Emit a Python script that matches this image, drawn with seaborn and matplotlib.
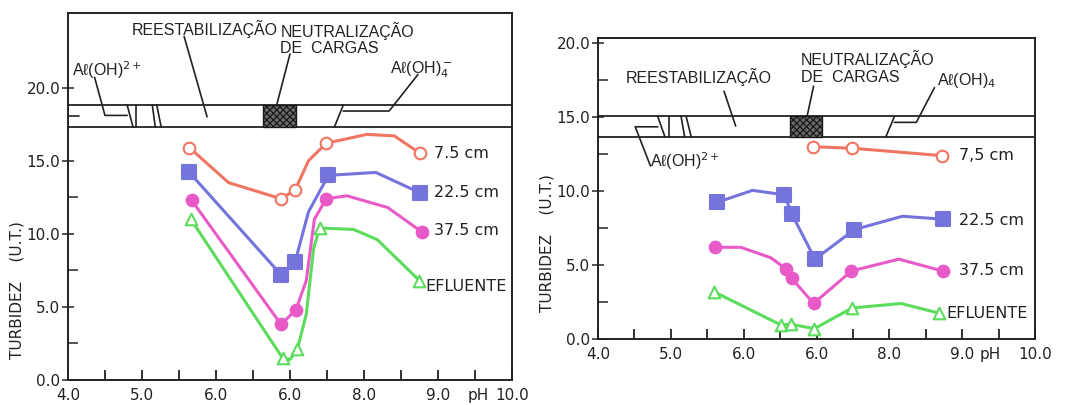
import numpy as np
import pandas as pd
import seaborn as sns
import matplotlib.pyplot as plt
from matplotlib.patches import Rectangle
from matplotlib.ticker import MultipleLocator, FixedLocator, FixedFormatter

sns.set_theme(style='white')
plt.rcParams['font.family'] = ['DejaVu Sans']
plt.rcParams['hatch.linewidth'] = 0.9

SERIES = ['7.5 cm', '22.5 cm', '37.5 cm', 'EFLUENTE']
COLORS = {'7.5 cm': '#f07563', '22.5 cm': '#7474dc', '37.5 cm': '#e85ac8', 'EFLUENTE': '#5cdc5c'}
MARKERS = {'7.5 cm': 'o', '22.5 cm': 's', '37.5 cm': 'o', 'EFLUENTE': '^'}
FILLED = {'7.5 cm': False, '22.5 cm': True, '37.5 cm': True, 'EFLUENTE': False}

XTICK_LABELS = ['4.0', '5.0', '6.0', '6.0', '8.0', '9.0', '10.0']
LABEL_FONT = ['Liberation Sans Narrow', 'Liberation Sans', 'DejaVu Sans']

# ---- left panel (vertices of each curve, mk = 1 where a marker is drawn)
L_PH_75 = [5.64, 6.17, 6.88, 7.07, 7.25, 7.49, 8.04, 8.41, 8.76]
L_TU_75 = [15.9, 13.5, 12.4, 13.0, 15.0, 16.2, 16.8, 16.7, 15.5]
L_MK_75 = [1, 0, 1, 1, 0, 1, 0, 0, 1]
L_PH_225 = [5.64, 6.88, 7.07, 7.25, 7.52, 8.16, 8.76]
L_TU_225 = [14.2, 7.2, 8.1, 11.5, 14.0, 14.2, 12.8]
L_MK_225 = [1, 1, 1, 0, 1, 0, 1]
L_PH_375 = [5.67, 6.88, 7.08, 7.22, 7.33, 7.49, 7.77, 8.32, 8.79]
L_TU_375 = [12.3, 3.8, 4.8, 6.8, 11.0, 12.4, 12.6, 11.8, 10.1]
L_MK_375 = [1, 1, 1, 0, 0, 1, 0, 0, 1]
L_PH_EF = [5.66, 6.90, 7.00, 7.10, 7.22, 7.32, 7.40, 7.86, 8.18, 8.75]
L_TU_EF = [11.0, 1.5, 1.4, 2.1, 4.5, 9.0, 10.4, 10.3, 9.6, 6.8]
L_MK_EF = [1, 1, 0, 1, 0, 0, 1, 0, 0, 1]

# ---- right panel
R_PH_75 = [6.95, 7.49, 8.72]
R_TU_75 = [13.0, 12.9, 12.4]
R_MK_75 = [1, 1, 1]
R_PH_225 = [5.64, 6.12, 6.56, 6.66, 6.98, 7.52, 8.18, 8.74]
R_TU_225 = [9.25, 10.05, 9.75, 8.45, 5.4, 7.4, 8.3, 8.1]
R_MK_225 = [1, 0, 1, 1, 1, 1, 0, 1]
R_PH_375 = [5.61, 5.96, 6.37, 6.58, 6.66, 6.96, 7.48, 8.13, 8.73]
R_TU_375 = [6.2, 6.2, 5.5, 4.75, 4.1, 2.4, 4.6, 5.4, 4.6]
R_MK_375 = [1, 0, 0, 1, 1, 1, 1, 0, 1]
R_PH_EF = [5.59, 6.51, 6.65, 6.97, 7.49, 8.16, 8.68]
R_TU_EF = [3.2, 0.95, 1.0, 0.7, 2.1, 2.4, 1.75]
R_MK_EF = [1, 1, 1, 1, 1, 0, 1]

# series label positions (pH, turbidity)
L_LABEL_POS = {'7.5 cm': (8.95, 15.5), '22.5 cm': (8.95, 12.8), '37.5 cm': (8.95, 10.2), 'EFLUENTE': (8.83, 6.4)}
R_LABEL_POS = {'7.5 cm': (8.95, 12.4), '22.5 cm': (8.95, 8.0), '37.5 cm': (8.95, 4.6), 'EFLUENTE': (8.78, 1.75)}
R_LABEL_TEXT = {'7.5 cm': '7,5 cm'}

# species band: (bottom, top, mid level of the Al(OH)2+ leader, mid level of the Al(OH)4 leader)
L_BAND = (17.3, 18.8, 18.1, 18.4)
R_BAND = (13.65, 15.05, 14.35, 14.65)
# boundary lines inside the band: (x at top, x at bottom)
L_BOUNDS = [(4.80, 4.88), (4.92, 4.92), (5.14, 5.18), (5.20, 5.26), (7.72, 7.60)]
R_BOUNDS = [(4.82, 4.92), (4.98, 4.98), (5.14, 5.19), (5.21, 5.28), (8.07, 7.95)]
L_HATCH = (6.64, 7.08)
R_HATCH = (6.63, 7.08)


def make_frame(ph, tu, mk, series):
    return pd.DataFrame({'ph': ph, 'tu': tu, 'mk': mk, 'serie': series})


def draw_curves(ax, frames):
    df = pd.concat(frames, ignore_index=True)
    sns.lineplot(data=df, x='ph', y='tu', hue='serie', palette=COLORS, sort=False,
                 estimator=None, lw=2.2, legend=False, ax=ax)
    for name in SERIES:
        pts = df[(df.serie == name) & (df.mk == 1)]
        col = COLORS[name]
        sns.scatterplot(data=pts, x='ph', y='tu', marker=MARKERS[name], s=70 if name != '22.5 cm' else 95,
                        color=col if FILLED[name] else 'white', edgecolor=col, linewidth=1.5,
                        legend=False, ax=ax, zorder=5)


def style_axes(ax, ytop, minor_y, ph_x):
    ax.set_xlim(4.0, 10.0)
    ax.set_ylim(0, ytop)
    ax.xaxis.set_major_locator(FixedLocator([4, 5, 6, 7, 8, 9, 10]))
    ax.xaxis.set_major_formatter(FixedFormatter(XTICK_LABELS))
    ax.xaxis.set_minor_locator(MultipleLocator(0.5))
    ax.yaxis.set_major_locator(FixedLocator([0, 5, 10, 15, 20]))
    ax.yaxis.set_major_formatter(FixedFormatter(['0.0', '5.0', '10.0', '15.0', '20.0']))
    ax.yaxis.set_minor_locator(FixedLocator(minor_y))
    ax.tick_params(axis='x', which='both', direction='in', length=7, width=1.3, pad=6,
                   bottom=True, labelsize=11, colors='#222222')
    ax.tick_params(axis='y', which='major', direction='inout', length=9, width=1.1, left=True,
                   labelsize=11, pad=1, colors='#222222')
    ax.tick_params(axis='y', which='minor', direction='in', length=7, width=1.1, left=True)
    for sp in ax.spines.values():
        sp.set_visible(True)
        sp.set_color('#222222')
        sp.set_linewidth(1.4)
    ax.set_xlabel('')
    ax.set_ylabel('TURBIDEZ    (U.T.)', fontsize=11, color='#222222')
    ax.annotate('pH', xy=(ph_x, 0), xycoords=('data', 'axes fraction'), xytext=(0, -6),
                textcoords='offset points', ha='center', va='top', fontsize=11, color='#222222')


def draw_band(ax, band, bounds, hatch, texts, leaders):
    lo, hi, _, _ = band
    ax.axhline(lo, color='#222222', lw=1.3)
    ax.axhline(hi, color='#222222', lw=1.3)
    for xt, xb in bounds:
        ax.plot([xt, xb], [hi, lo], color='#222222', lw=1.2)
    ax.add_patch(Rectangle((hatch[0], lo), hatch[1] - hatch[0], hi - lo, facecolor='#6a6a6a',
                           edgecolor='#1a1a1a', hatch='xxxxx', lw=1.0, zorder=3))
    for xs, ys in leaders:
        ax.plot(xs, ys, color='#222222', lw=1.2)
    for x, y, s, ha in texts:
        ax.text(x, y, s, ha=ha, va='center', fontsize=11.5, color='#222222', family=LABEL_FONT)


fig = plt.figure(figsize=(10.84, 4.05), dpi=100)
axL = fig.add_axes([0.0627, 0.0617, 0.4096, 0.906])
axR = fig.add_axes([0.5517, 0.163, 0.4031, 0.743])

draw_curves(axL, [make_frame(L_PH_75, L_TU_75, L_MK_75, '7.5 cm'),
                  make_frame(L_PH_225, L_TU_225, L_MK_225, '22.5 cm'),
                  make_frame(L_PH_375, L_TU_375, L_MK_375, '37.5 cm'),
                  make_frame(L_PH_EF, L_TU_EF, L_MK_EF, 'EFLUENTE')])
draw_curves(axR, [make_frame(R_PH_75, R_TU_75, R_MK_75, '7.5 cm'),
                  make_frame(R_PH_225, R_TU_225, R_MK_225, '22.5 cm'),
                  make_frame(R_PH_375, R_TU_375, R_MK_375, '37.5 cm'),
                  make_frame(R_PH_EF, R_TU_EF, R_MK_EF, 'EFLUENTE')])

style_axes(axL, 25.1, [2.5, 7.5, 12.5], 9.55)
style_axes(axR, 20.35, [2.5, 7.5, 12.5, 17.5], 9.38)
axL.yaxis.set_label_coords(-0.097, 0.245)
axR.yaxis.set_label_coords(-0.1, 0.32)

for name in SERIES:
    x, y = L_LABEL_POS[name]
    axL.text(x, y, name, va='center', ha='left', fontsize=11.5, color='#222222')
    x, y = R_LABEL_POS[name]
    axR.text(x, y, R_LABEL_TEXT.get(name, name), va='center', ha='left', fontsize=11.5, color='#222222')

draw_band(axL, L_BAND, L_BOUNDS, L_HATCH,
          [(5.85, 24.0, 'REESTABILIZAÇÃO', 'center'),
           (6.87, 23.85, 'NEUTRALIZAÇÃO', 'left'),
           (6.87, 22.7, 'DE  CARGAS', 'left'),
           (4.05, 21.2, 'Aℓ(OH)$^{2+}$', 'left'),
           (8.35, 21.2, 'Aℓ(OH)$_4^-$', 'left')],
          [([4.36, 4.50, 4.80], [20.7, L_BAND[2], L_BAND[2]]),
           ([5.57, 5.88], [23.5, 18.0]),
           ([7.00, 6.82], [22.3, L_BAND[1]]),
           ([8.73, 8.34, 7.72], [20.9, L_BAND[3], L_BAND[3]]),
           ([4.0, 4.15], [18.05, 18.05])])

draw_band(axR, R_BAND, R_BOUNDS, R_HATCH,
          [(5.38, 17.7, 'REESTABILIZAÇÃO', 'center'),
           (6.78, 18.9, 'NEUTRALIZAÇÃO', 'left'),
           (6.78, 17.65, 'DE  CARGAS', 'left'),
           (4.72, 12.0, 'Aℓ(OH)$^{2+}$', 'left'),
           (8.66, 17.5, 'Aℓ(OH)$_4$', 'left')],
          [([4.72, 4.51, 4.82], [11.7, R_BAND[2], R_BAND[2]]),
           ([5.73, 5.89], [16.75, 14.4]),
           ([6.96, 6.87], [17.1, R_BAND[1]]),
           ([8.62, 8.37, 8.07], [17.0, R_BAND[3], R_BAND[3]])])

fig.savefig('out.png', dpi=100, facecolor='white')
